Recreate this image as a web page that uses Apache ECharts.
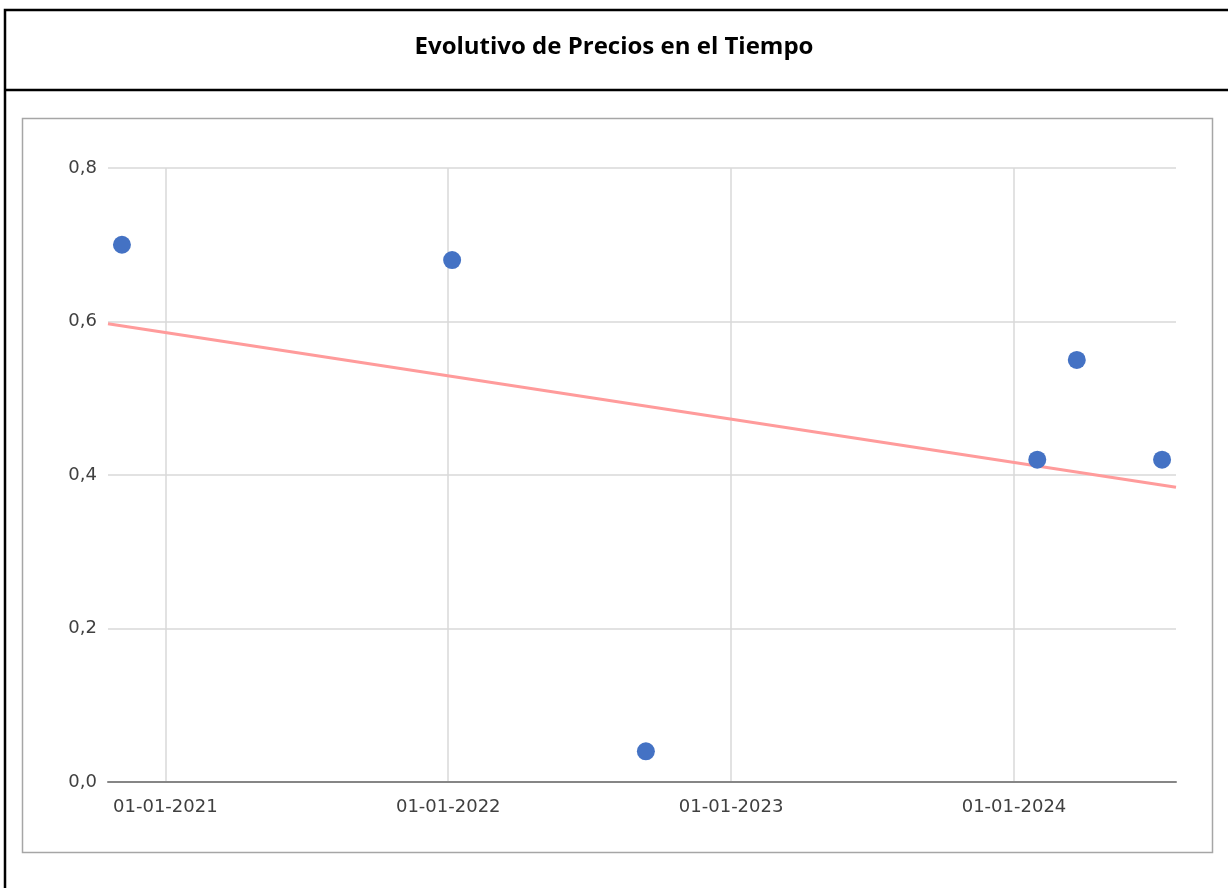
<!DOCTYPE html>
<html>
<head>
<meta charset="utf-8">
<title>Evolutivo de Precios en el Tiempo</title>
<script src="https://cdn.jsdelivr.net/npm/echarts@6/dist/echarts.min.js"></script>
<style>
  html, body { margin: 0; padding: 0; background: #fff; }
  #chart { width: 1228px; height: 888px; }
</style>
</head>
<body>
<div id="chart"></div>
<script>
// datos
var fechas = ['2020-11-06', '2022-01-06', '2022-09-13', '2024-01-31', '2024-03-22', '2024-07-10'];
var precios = [0.70, 0.68, 0.04, 0.42, 0.55, 0.42];

// linea de tendencia (extremos del eje)
var tendenciaFechas = ['2020-10-19', '2024-07-28'];
var tendenciaValores = [0.597, 0.384];

var ejeY = [0, 0.8, 0.2]; // min, max, intervalo

function pad(n) {
	return n < 10 ? '0' + n : '' + n;
}

var puntos = fechas.map(function (f, i) {
	return [f, precios[i]];
});
var tendencia = tendenciaFechas.map(function (f, i) {
	return [f, tendenciaValores[i]];
});

var chart = echarts.init(document.getElementById('chart'));
var YEAR = 365 * 24 * 3600 * 1000;

var option = {
	backgroundColor: '#fff',
	animation: false,
	title: {
		text: 'Evolutivo de Precios en el Tiempo',
		left: 'center',
		top: 27,
		textStyle: {
			fontFamily: 'Open Sans',
			fontWeight: 'bold',
			fontSize: 24,
			lineHeight: 30,
			color: '#000'
		}
	},
	graphic: [
		{
			type: 'polyline',
			silent: true,
			shape: { points: [[1230, 10], [5, 10], [5, 890]] },
			style: { stroke: '#000', lineWidth: 2.5, fill: null }
		},
		{
			type: 'line',
			silent: true,
			shape: { x1: 5, y1: 90, x2: 1230, y2: 90 },
			style: { stroke: '#000', lineWidth: 2.5 }
		},
		{
			type: 'rect',
			silent: true,
			shape: { x: 22.5, y: 118.5, width: 1190, height: 734 },
			style: { stroke: '#a6a6a6', lineWidth: 1.5, fill: null }
		}
	],
	grid: {
		left: 108,
		right: 52,
		top: 168,
		bottom: 106
	},
	xAxis: {
		type: 'time',
		min: tendenciaFechas[0],
		max: tendenciaFechas[1],
		minInterval: YEAR,
		splitNumber: 4,
		axisLine: { show: true, lineStyle: { color: '#868686', width: 2 } },
		axisTick: { show: false },
		splitLine: {
			show: true,
			showMinLine: false,
			showMaxLine: false,
			lineStyle: { color: '#d9d9d9', width: 1.5 }
		},
		axisLabel: {
			showMinLabel: false,
			showMaxLabel: false,
			margin: 16,
			color: '#404040',
			fontFamily: 'DejaVu Sans',
			fontSize: 18,
			formatter: function (v) {
				var d = new Date(v);
				return pad(d.getDate()) + '-' + pad(d.getMonth() + 1) + '-' + d.getFullYear();
			}
		}
	},
	yAxis: {
		type: 'value',
		min: ejeY[0],
		max: ejeY[1],
		interval: ejeY[2],
		axisLine: { show: false },
		axisTick: { show: false },
		splitLine: { show: true, lineStyle: { color: '#d9d9d9', width: 1.5 } },
		axisLabel: {
			margin: 11,
			color: '#404040',
			fontFamily: 'DejaVu Sans',
			fontSize: 18,
			formatter: function (v) {
				return v.toFixed(1).replace('.', ',');
			}
		}
	},
	series: [
		{
			name: 'Tendencia',
			type: 'line',
			data: tendencia,
			symbol: 'none',
			z: 2,
			lineStyle: { color: '#ff9b9b', width: 3 }
		},
		{
			name: 'Precio',
			type: 'scatter',
			data: puntos,
			symbolSize: 18,
			z: 3,
			itemStyle: { color: '#4472c4', opacity: 1 }
		}
	]
};

chart.setOption(option);
</script>
</body>
</html>
